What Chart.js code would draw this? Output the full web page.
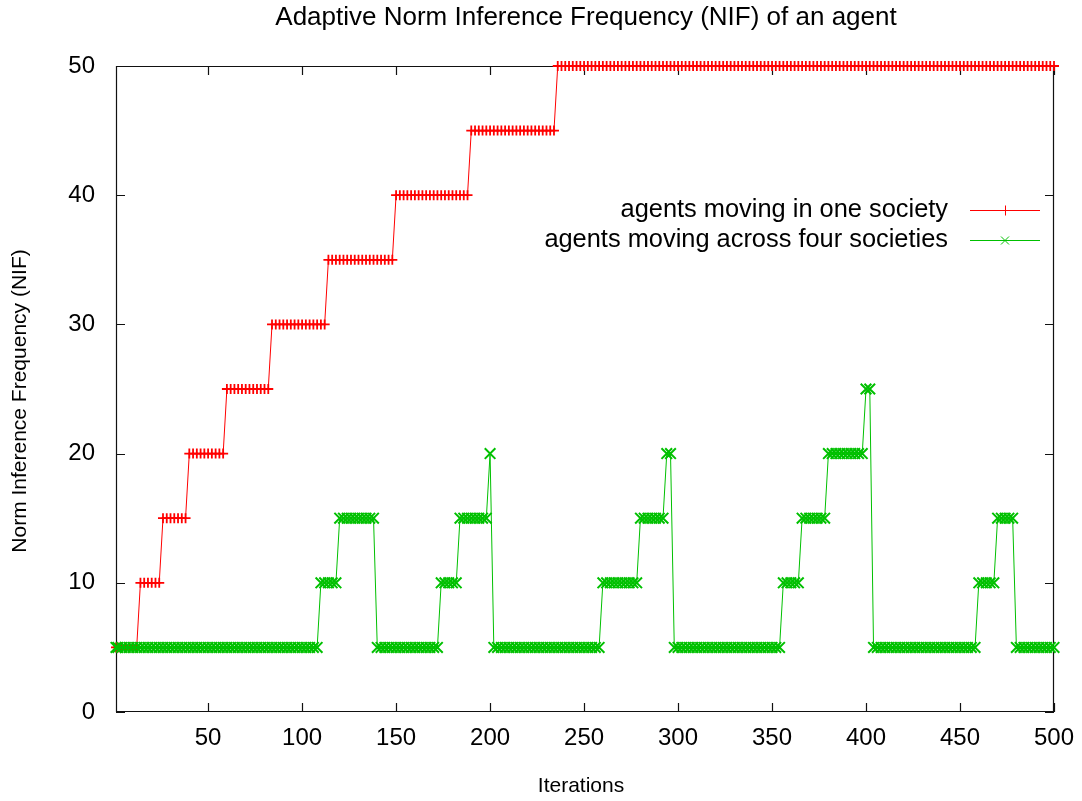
<!DOCTYPE html>
<html><head><meta charset="utf-8">
<script src="https://cdn.jsdelivr.net/npm/chart.js@4.4.1/dist/chart.umd.min.js"></script>
<style>html,body{margin:0;padding:0;background:#fff;}#wrap{width:1082px;height:801px;}</style>
</head><body><div id="wrap"><canvas id="c" width="1082" height="801"></canvas></div>
<script>
const chartTitle = 'Adaptive Norm Inference Frequency (NIF) of an agent';
const xAxisTitle = 'Iterations';
const yAxisTitle = 'Norm Inference Frequency (NIF)';
const seriesNames = ['agents moving in one society', 'agents moving across four societies'];
const xTicks = [50, 100, 150, 200, 250, 300, 350, 400, 450, 500];
const yTicks = [0, 10, 20, 30, 40, 50];
// Iteration at which each level begins, and the level
const redStartIter = [1, 14, 26, 40, 60, 84, 114, 150, 190, 236];
const redLevel     = [5, 10, 15, 20, 25, 30, 35, 40, 45, 50];
const greenStartIter = [1, 110, 120, 140, 174, 184, 200, 202, 260, 280, 294, 298, 356, 366, 380, 400, 404, 460, 470, 480];
const greenLevel     = [5, 10, 15, 5, 10, 15, 20, 5, 10, 15, 20, 5, 10, 15, 20, 25, 5, 10, 15, 5];
// sampled iterations (markers)
const sampleIters = [1];
for (let it = 2; it <= 500; it += 2) sampleIters.push(it);

function levelAt(starts, levels, it) {
  let v = levels[0];
  for (let i = 0; i < starts.length; i++) if (starts[i] <= it) v = levels[i];
  return v;
}
const redData = sampleIters.map(it => ({x: it, y: levelAt(redStartIter, redLevel, it)}));
const greenData = sampleIters.map(it => ({x: it, y: levelAt(greenStartIter, greenLevel, it)}));

const RED = '#ff0000', GREEN = '#00c000';
const FONT = '"Liberation Sans", Arial, sans-serif';

const framePlugin = {
  id: 'frame',
  beforeDatasetsDraw(chart) {
    const {ctx, chartArea: a, scales} = chart;
    ctx.save();
    ctx.strokeStyle = '#111';
    ctx.lineWidth = 1.2;
    ctx.beginPath();
    ctx.rect(a.left + 0.5, a.top + 0.5, a.right - a.left - 1, a.bottom - a.top - 1);
    const L = 9;
    xTicks.forEach(v => {
      const x = Math.round(scales.x.getPixelForValue(v)) + 0.5;
      ctx.moveTo(x, a.bottom); ctx.lineTo(x, a.bottom - L);
      ctx.moveTo(x, a.top); ctx.lineTo(x, a.top + L);
    });
    yTicks.forEach(v => {
      const y = Math.round(scales.y.getPixelForValue(v)) + 0.5;
      ctx.moveTo(a.left, y); ctx.lineTo(a.left + L, y);
      ctx.moveTo(a.right, y); ctx.lineTo(a.right - L, y);
    });
    ctx.stroke();
    ctx.restore();
  },
  afterDraw(chart) {
    const {ctx} = chart;
    ctx.save();
    ctx.fillStyle = '#000';
    ctx.textBaseline = 'middle';
    ctx.textAlign = 'center';
    ctx.font = '26px ' + FONT;
    ctx.fillText(chartTitle, 586, 18);
    ctx.font = '21px ' + FONT;
    ctx.fillText(xAxisTitle, 581, 786);
    ctx.save();
    ctx.translate(20, 401);
    ctx.rotate(-Math.PI / 2);
    ctx.fillText(yAxisTitle, 0, 0);
    ctx.restore();
    // legend
    ctx.font = '25.4px ' + FONT;
    ctx.textAlign = 'right';
    const rows = [{y: 210, c: RED, s: 'plus'}, {y: 240, c: GREEN, s: 'x'}];
    rows.forEach((r, i) => {
      ctx.fillStyle = '#000';
      ctx.fillText(seriesNames[i], 948, r.y);
      ctx.strokeStyle = r.c;
      ctx.lineWidth = 1;
      ctx.beginPath();
      ctx.moveTo(970, r.y + 0.5); ctx.lineTo(1040, r.y + 0.5);
      const cx = 1005, cy = r.y + 0.5;
      if (r.s === 'plus') {
        ctx.moveTo(cx + 0.5, cy - 5); ctx.lineTo(cx + 0.5, cy + 5);
      } else {
        ctx.moveTo(cx - 4, cy - 4); ctx.lineTo(cx + 4, cy + 4);
        ctx.moveTo(cx - 4, cy + 4); ctx.lineTo(cx + 4, cy - 4);
      }
      ctx.stroke();
    });
    ctx.restore();
  }
};

new Chart(document.getElementById('c'), {
  type: 'line',
  data: {
    datasets: [
      {label: seriesNames[0], data: redData, borderColor: RED, backgroundColor: RED, borderWidth: 1,
       pointStyle: 'cross', pointRadius: 5, pointBorderWidth: 1.8, pointBorderColor: RED,
       tension: 0, fill: false, clip: false, order: 2},
      {label: seriesNames[1], data: greenData, borderColor: GREEN, backgroundColor: GREEN, borderWidth: 1,
       pointStyle: 'crossRot', pointRadius: 7.5, pointBorderWidth: 2, pointBorderColor: GREEN,
       tension: 0, fill: false, clip: false, order: 1}
    ]
  },
  options: {
    responsive: false,
    animation: false,
    events: [],
    layout: {padding: {top: 66, right: 28, left: 0, bottom: 0}},
    plugins: {legend: {display: false}, title: {display: false}, tooltip: {enabled: false}},
    scales: {
      x: {
        type: 'linear', min: 1, max: 500,
        afterBuildTicks: s => { s.ticks = xTicks.map(v => ({value: v})); },
        afterFit: s => { s.height = 89; s.paddingLeft = 0; s.paddingRight = 0; },
        grid: {display: false, drawTicks: false},
        border: {display: false},
        ticks: {font: {family: FONT, size: 24}, color: '#000', padding: 12, maxRotation: 0, autoSkip: false}
      },
      y: {
        type: 'linear', min: 0, max: 50,
        afterBuildTicks: s => { s.ticks = yTicks.map(v => ({value: v})); },
        afterFit: s => { s.width = 116; s.paddingTop = 0; s.paddingBottom = 0; },
        grid: {display: false, drawTicks: false},
        border: {display: false},
        ticks: {font: {family: FONT, size: 24}, color: '#000', padding: 21, autoSkip: false}
      }
    }
  },
  plugins: [framePlugin]
});
</script></body></html>
